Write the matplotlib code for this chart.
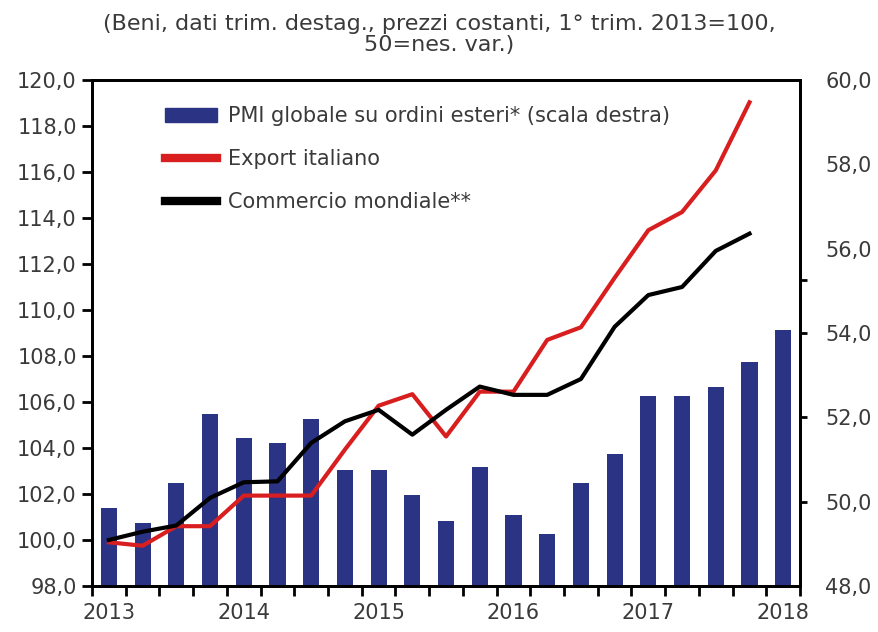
import numpy as np
import matplotlib
matplotlib.use("Agg")
import matplotlib.pyplot as plt
from matplotlib.patches import Patch
from matplotlib.lines import Line2D

# quarterly data, 1Q2013 .. 1Q2018
years = ["2013", "2014", "2015", "2016", "2017", "2018"]
pmi_orders = [49.85, 49.5, 50.45, 52.07, 51.52, 51.38, 51.95, 50.75, 50.75, 50.15, 49.55,
              50.83, 49.68, 49.24, 50.45, 51.13, 52.51, 52.51, 52.71, 53.32, 54.08]
export_it = [99.9, 99.75, 100.6, 100.6, 101.93, 101.93, 101.93, 103.93, 105.84, 106.34,
             104.5, 106.45, 106.45, 108.7, 109.25, 111.4, 113.47, 114.26, 116.07, 119.03]
world_trade = [100.0, 100.36, 100.63, 101.83, 102.51, 102.55, 104.22, 105.16, 105.66, 104.58,
               105.66, 106.67, 106.31, 106.31, 107.0, 109.27, 110.65, 111.0, 112.57, 113.32]
right_marks = [50, 52, 54, 55.25]

labels = ["PMI globale su ordini esteri* (scala destra)", "Export italiano",
          "Commercio mondiale**"]
title = "(Beni, dati trim. destag., prezzi costanti, 1° trim. 2013=100,\n50=nes. var.)"

blue = "#2b3384"
red = "#d81e1e"
txt = "#3a3a3a"

plt.rcParams["font.family"] = "DejaVu Sans"
fs = 15

fig = plt.figure(figsize=(8.79, 6.32), dpi=100)
ax = fig.add_axes([0.1047, 0.0728, 0.8055, 0.8006])
ax2 = ax.twinx()
ax.set_zorder(ax2.get_zorder() + 1)
ax.patch.set_visible(False)

x_bar = np.arange(len(pmi_orders)) + 0.5
x_line = np.arange(len(export_it)) + 0.5

ax2.bar(x_bar, pmi_orders, width=0.48, color=blue, bottom=0)
ax.plot(x_line, export_it, color=red, lw=3)
ax.plot(x_line, world_trade, color="black", lw=3)

ax.set_xlim(0, 21)
ax.set_ylim(98, 120)
ax2.set_ylim(48, 60)

def fmt(v):
    return f"{v:.1f}".replace(".", ",")

lt = np.arange(98, 121, 2)
ax.set_yticks(lt)
ax.set_yticklabels([fmt(v) for v in lt], fontsize=fs, color=txt)

# right axis: labels on every step, tick marks only in the lower part
rt = np.arange(48, 61, 2)
ax2.set_yticks(rt)
ax2.set_yticklabels([fmt(v) for v in rt], fontsize=fs, color=txt)
ax2.tick_params(axis="y", which="major", length=0, pad=18)
ax2.hlines(right_marks, 1.0, 1.0 + 7 / 708, transform=ax2.get_yaxis_transform(),
           colors="black", lw=2, clip_on=False)

ax.set_xticks(np.arange(0, 22))
ax.set_xticklabels([])
ax.set_xticks(np.arange(0, 21, 4) + 0.5, minor=True)
ax.set_xticklabels(years, minor=True, fontsize=fs, color=txt)
ax.tick_params(axis="x", which="major", length=7, width=2, direction="out")
ax.tick_params(axis="x", which="minor", length=0, pad=12)
ax.tick_params(axis="y", length=7, width=2, direction="out", pad=4)

for a in (ax, ax2):
    for s in a.spines.values():
        s.set_linewidth(2)
        s.set_color("black")

handles = [Patch(color=blue), Line2D([], [], color=red, lw=6),
           Line2D([], [], color="black", lw=6)]
leg = ax.legend(handles, labels, loc="upper left", bbox_to_anchor=(0.077, 0.985),
                frameon=False, fontsize=fs, handlelength=2.5, handletextpad=0.5,
                labelspacing=1.1)
for t in leg.get_texts():
    t.set_color(txt)

fig.text(0.5, 1 - 14 / 632, title, ha="center", va="top", fontsize=16, color=txt,
         linespacing=1.05)

fig.savefig("out.png", dpi=100)
